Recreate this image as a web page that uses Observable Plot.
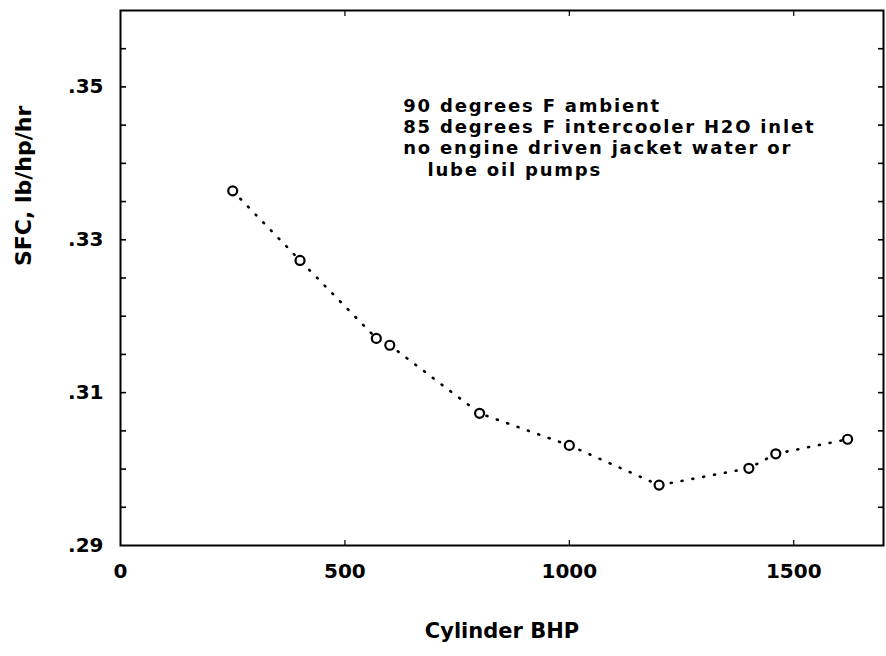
<!DOCTYPE html>
<html>
<head>
<meta charset="utf-8">
<script src="https://cdn.jsdelivr.net/npm/d3@7"></script>
<script src="https://cdn.jsdelivr.net/npm/@observablehq/plot@0.6"></script>
<style>
  html, body { margin: 0; padding: 0; background: #fff; }
  #chart svg { display: block; }
</style>
</head>
<body>
<div id="chart"></div>
<script>
// Data
const bhp = [250, 400, 570, 600, 800, 1000, 1200, 1400, 1460, 1620];
const sfc = [0.3364, 0.3273, 0.3171, 0.3162, 0.3073, 0.3031, 0.2979, 0.3001, 0.3020, 0.3039];
const xTicks = [0, 500, 1000, 1500];
const yTicks = [0.29, 0.31, 0.33, 0.35];
const yMinorTicks = [0.295, 0.30, 0.305, 0.31, 0.315, 0.32, 0.325, 0.33, 0.335, 0.34, 0.345, 0.35, 0.355];
const xMinorTicks = [500, 1000, 1500];
const noteLines = [
  "90 degrees F ambient",
  "85 degrees F intercooler H2O inlet",
  "no engine driven jacket water or",
  "   lube oil pumps"
];
const notePos = {x: 630, y: 0.3487};
const xLabel = "Cylinder BHP";
const yLabel = "SFC, lb/hp/hr";

const data = bhp.map((b, i) => ({bhp: b, sfc: sfc[i]}));
const FONT = "'DejaVu Sans', 'Liberation Sans', Arial, sans-serif";

const chart = Plot.plot({
  width: 886,
  height: 656,
  marginLeft: 120,
  marginRight: 3,
  marginTop: 10,
  marginBottom: 111,
  style: {fontFamily: FONT, background: "#fff", color: "#000"},
  x: {domain: [0, 1700]},
  y: {domain: [0.29, 0.36]},
  marks: [
    // inward minor ticks (shifted inside the frame)
    Plot.axisY(yMinorTicks, {anchor: "left", tickSize: 6, dx: 6, tickFormat: () => "", strokeWidth: 1.6, label: null}),
    Plot.axisY(yMinorTicks, {anchor: "right", tickSize: 6, dx: -6, tickFormat: () => "", strokeWidth: 1.6, label: null}),
    Plot.axisX(xMinorTicks, {anchor: "bottom", tickSize: 5, dy: -5, tickFormat: () => "", strokeWidth: 1.2, label: null}),
    Plot.axisX(xMinorTicks, {anchor: "top", tickSize: 5, dy: 5, tickFormat: () => "", strokeWidth: 1.2, label: null}),
    // tick labels
    Plot.axisY(yTicks, {anchor: "left", tickSize: 0, tickPadding: 17, tickFormat: d => d.toFixed(2).slice(1),
      fontSize: 20, fontWeight: "bold", label: null}),
    Plot.axisX(xTicks, {anchor: "bottom", tickSize: 0, tickPadding: 18, tickFormat: d => String(d),
      fontSize: 20, fontWeight: "bold", label: null}),
    Plot.frame({stroke: "#000", strokeWidth: 2}),
    // dotted curve
    Plot.line(data, {x: "bhp", y: "sfc", stroke: "#000", strokeWidth: 2.6,
      strokeDasharray: "1,10", strokeLinecap: "round"}),
    Plot.dot(data, {x: "bhp", y: "sfc", r: 4.5, stroke: "#000", strokeWidth: 2.2, fill: "#fff"}),
    // annotation
    Plot.text([noteLines.join("\n")], {x: () => notePos.x, y: () => notePos.y, textAnchor: "start",
      lineAnchor: "top", lineHeight: 1.18, fontSize: 18, fontWeight: "bold", fill: "#000"}),
    // axis titles
    Plot.text([xLabel], {frameAnchor: "bottom", dy: 92, fontSize: 21, fontWeight: "bold", fill: "#000"}),
    Plot.text([yLabel], {frameAnchor: "left", dx: -97, dy: -12, rotate: -90, fontSize: 22, fontWeight: "bold", fill: "#000"})
  ]
});
// widen the annotation lettering like the reference's typeface
d3.select(chart).selectAll("text")
  .filter(function () { return this.textContent.includes(noteLines[0]); })
  .style("letter-spacing", "1.8px");
document.getElementById("chart").appendChild(chart);
</script>
</body>
</html>
